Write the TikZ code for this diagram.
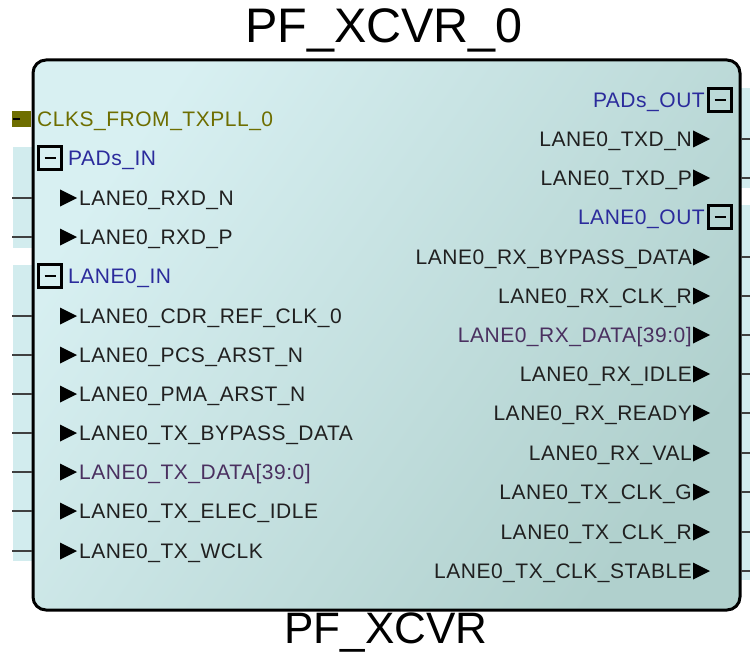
\documentclass[tikz,border=0pt]{standalone}
\usepackage{fontspec}
\setmainfont{Liberation Sans}
\definecolor{bandc}{HTML}{D2ECEE}
\definecolor{filla}{HTML}{D8F0F2}
\definecolor{fillb}{HTML}{B0D0CD}
\definecolor{grpc}{HTML}{2B2B9C}
\definecolor{busc}{HTML}{4A3060}
\definecolor{olivec}{HTML}{6E6E00}
\definecolor{portc}{HTML}{202020}
\tikzset{
  x=1pt,y=-1pt,
  lbl/.style={inner sep=0pt,font=\fontsize{21}{21}\selectfont\addfontfeatures{LetterSpace=2.5},text=portc},
  tri/.style={fill=black,draw=none},
  stub/.style={draw=black!75,line width=1.3pt},
  grpbox/.style={draw=black,line width=2.4pt,fill=none,minimum width=23pt,minimum height=23pt,inner sep=0pt},
}
\begin{document}
\begin{tikzpicture}
\useasboundingbox (0,0) rectangle (750,658);
% bands
\fill[bandc] (13,147) rectangle (32,248);
\fill[bandc] (13,265) rectangle (32,561);
\fill[bandc] (741,88) rectangle (750,188);
\fill[bandc] (741,205) rectangle (750,580);
% main body
\shade[rounded corners=13pt,left color=filla,right color=fillb,shading angle=55] (33,60) rectangle (740,610);
\draw[line width=3pt,rounded corners=13pt] (33,60) rectangle (740,610);
\coordinate (LE) at (32,0);
\coordinate (RE) at (741,0);
% titles
\node[inner sep=0pt,font=\fontsize{48.5}{48}\selectfont] (title) at (384,30) {PF\_XCVR\_0};
\node[inner sep=0pt,font=\fontsize{44}{44}\selectfont] (typ) at (386,633) {PF\_XCVR};
% clock bus
\fill[olivec] (12,111) rectangle (31,127);
\draw[black,line width=1.6pt] (13,119) -- (20,119);
\node[lbl,anchor=base west,text=olivec] (clks) at (37,126.5) {CLKS\_FROM\_TXPLL\_0};
% left group headers
\foreach \y/\n/\t in {158/gpi/PADs\_IN, 276/gli/LANE0\_IN}{
  \node[grpbox] (\n b) at (50,\y) {};
  \draw[line width=2.8pt] ([xshift=-5.5pt]\n b.center) -- ([xshift=5.5pt]\n b.center);
  \node[lbl,anchor=base west,text=grpc] (\n) at (68,\y+7.5) {\t};
}
% right group headers
\foreach \y/\n/\t in {100/gpo/PADs\_OUT, 217/glo/LANE0\_OUT}{
  \node[grpbox] (\n b) at (720,\y) {};
  \draw[line width=2.8pt] ([xshift=-5.5pt]\n b.center) -- ([xshift=5.5pt]\n b.center);
  \node[lbl,anchor=base east,text=grpc] (\n) at (705,\y+7.5) {\t};
}
% left ports
\foreach \y/\n/\t/\c in {198/l1/LANE0\_RXD\_N/portc, 237/l2/LANE0\_RXD\_P/portc,
  316/l3/LANE0\_CDR\_REF\_CLK\_0/portc, 355/l4/LANE0\_PCS\_ARST\_N/portc,
  394/l5/LANE0\_PMA\_ARST\_N/portc, 433/l6/LANE0\_TX\_BYPASS\_DATA/portc,
  472/l7/LANE0\_TX\_DATA[39:0]/busc, 511/l8/LANE0\_TX\_ELEC\_IDLE/portc,
  551/l9/LANE0\_TX\_WCLK/portc}{
  \fill[tri] (60,\y-8.5) -- (77,\y) -- (60,\y+8.5) -- cycle;
  \node[lbl,anchor=base west,text=\c] (\n) at (79,\y+7.5) {\t};
  \coordinate (\n s) at (12,\y);
  \draw[stub] (\n s) -- (LE |- \n s);
}
% right ports
\foreach \y/\n/\t/\c in {139/r1/LANE0\_TXD\_N/portc, 178/r2/LANE0\_TXD\_P/portc,
  257/r3/LANE0\_RX\_BYPASS\_DATA/portc, 296/r4/LANE0\_RX\_CLK\_R/portc,
  335/r5/LANE0\_RX\_DATA[39:0]/busc, 374/r6/LANE0\_RX\_IDLE/portc,
  413/r7/LANE0\_RX\_READY/portc, 453/r8/LANE0\_RX\_VAL/portc,
  492/r9/LANE0\_TX\_CLK\_G/portc, 532/r10/LANE0\_TX\_CLK\_R/portc,
  571/r11/LANE0\_TX\_CLK\_STABLE/portc}{
  \fill[tri] (693,\y-8.5) -- (710,\y) -- (693,\y+8.5) -- cycle;
  \node[lbl,anchor=base east,text=\c] (\n) at (692,\y+7.5) {\t};
  \coordinate (\n s) at (750,\y);
  \draw[stub] (RE |- \n s) -- (\n s);
}
\end{tikzpicture}
\end{document}
